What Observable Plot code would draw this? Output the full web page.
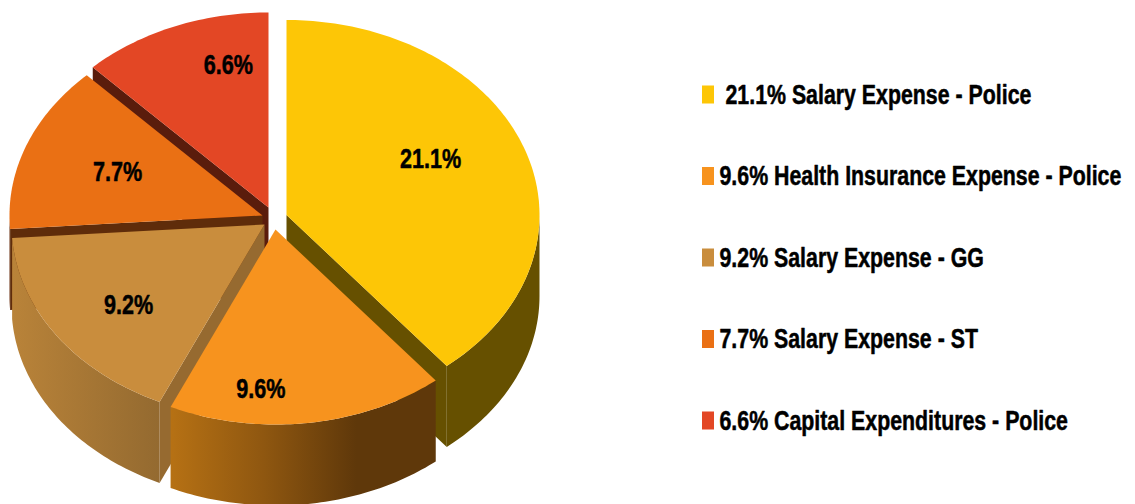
<!DOCTYPE html>
<html><head><meta charset="utf-8">
<style>html,body{margin:0;padding:0;background:#fff}svg{display:block}</style>
<script src="https://cdn.jsdelivr.net/npm/d3@7"></script>
<script src="https://cdn.jsdelivr.net/npm/@observablehq/plot@0.6"></script>
</head><body><div id="chart"></div>
<script>
// Data
const shares = [21.1, 9.6, 9.2, 7.7, 6.6];
const names = ["Salary Expense - Police", "Health Insurance Expense - Police", "Salary Expense - GG", "Salary Expense - ST", "Capital Expenditures - Police"];
const colors = ["#fdc606", "#f7931e", "#c98d3d", "#ea7014", "#e34725"];

// Layout: exploded centres, tilt, and styles (not data)
const rx = 253, ry = 195, depth = 81;
const centers = [[286, 214.5], [275, 229], [264, 224], [262, 215], [268, 207]];
const wallColors = ["#665000", null, "#966a30", "#5f2c0a", "#5a1c0c"];
const sideFills = ["#665000", "url(#sideOrange)", "url(#sideTan)", "#6b2e0e", "#5a1c0c"];
const labelSpot = [[0.45, 0.637], [0.68, 0.82], [0.45, 0.68], [0.5, 0.614], [0.72, 0.745]];
const font = "'Liberation Sans',Arial,sans-serif";
const legendY = [94.5, 176, 257.5, 339, 420.5];
const legendX = [725, 719, 719, 719, 719];

const total = d3.sum(shares);
const cum = Array.from(d3.cumsum(shares));
// Slight perspective foreshortening of the drawn sweep
const angle = d3.scaleLinear().domain([0, ...cum]).range([0, 140.7, 204.5, 266, 316, 360]);
const rad = d => d * Math.PI / 180;
const pt = (c, t, f = 1, dy = 0) => [c[0] + rx * f * Math.sin(rad(t)), c[1] - ry * f * Math.cos(rad(t)) + dy];
const arc = (c, t0, t1, dy = 0) => {
  const n = Math.max(2, Math.ceil(Math.abs(t1 - t0))), out = [];
  for (let i = 0; i <= n; ++i) out.push(pt(c, t0 + (t1 - t0) * i / n, 1, dy));
  return out;
};
const slices = shares.map((v, i) => ({
  i, c: centers[i],
  t0: angle(i ? cum[i - 1] : 0),
  t1: angle(cum[i])
}));
const poly = (points, fill) => Plot.line(points, {x: d => d[0], y: d => d[1], fill, stroke: "none", curve: "linear"});

function sliceMarks(s) {
  const {c, t0, t1, i} = s, out = [];
  const a = Math.max(t0, 90), b = Math.min(t1, 270);
  if (a < b) out.push(poly([...arc(c, a, b), ...arc(c, b, a, depth)], sideFills[i]));
  if (wallColors[i]) {
    const edge = i === 0 ? t1 : t0;
    const e = pt(c, edge);
    out.push(poly([c, e, [e[0], e[1] + depth], [c[0], c[1] + depth]], wallColors[i]));
  }
  out.push(poly([c, ...arc(c, t0, t1)], colors[i]));
  return out;
}

const defs = () => {
  const el = document.createElementNS("http://www.w3.org/2000/svg", "defs");
  el.innerHTML = `
    <linearGradient id="sideOrange" x1="0" x2="1" y1="0" y2="0">
      <stop offset="0" stop-color="#b67114"/><stop offset="0.35" stop-color="#8f5710"/>
      <stop offset="0.7" stop-color="#5f380a"/><stop offset="1" stop-color="#5f380a"/>
    </linearGradient>
    <linearGradient id="sideTan" x1="0" x2="1" y1="0" y2="0">
      <stop offset="0" stop-color="#b98339"/><stop offset="1" stop-color="#946a30"/>
    </linearGradient>`;
  return el;
};

const labels = slices.map(s => {
  const [sp, f] = labelSpot[s.i];
  const [x, y] = pt(s.c, s.t0 + (s.t1 - s.t0) * sp, f);
  return {x, y, text: shares[s.i].toFixed(1) + "%"};
});
const legend = shares.map((v, i) => ({x: legendX[i], y: legendY[i], text: `${v.toFixed(1)}% ${names[i]}`, color: colors[i]}));

// Condensed, tall bold lettering as in the reference
const squeeze = sx => (index, scales, values, dims, ctx, next) => {
  const g = next(index, scales, values, dims, ctx);
  d3.select(g).selectAll("text").each(function() {
    const t = this.getAttribute("transform") || "";
    this.setAttribute("transform", `${t} scale(${sx},1)`);
  });
  return g;
};
const textStyle = {fontFamily: font, fontWeight: "bold", fontSize: 27, fill: "#000", stroke: "#000", strokeWidth: 0.5};

const order = [4, 3, 2, 0, 1];
const chart = Plot.plot({
  width: 1135, height: 504,
  margin: 0,
  x: {domain: [0, 1135], range: [0, 1135], axis: null},
  y: {domain: [0, 504], range: [0, 504], axis: null},
  marks: [
    defs,
    ...order.flatMap(i => sliceMarks(slices[i])),
    Plot.text(labels, {x: "x", y: "y", text: "text", ...textStyle, textAnchor: "middle", render: squeeze(0.8)}),
    Plot.rect(legend, {x1: () => 702, x2: () => 714, y1: d => d.y - 9, y2: d => d.y + 9, fill: "color"}),
    Plot.text(legend, {x: "x", y: "y", text: "text", ...textStyle, textAnchor: "start", render: squeeze(0.79)})
  ]
});
document.getElementById("chart").append(chart);
</script></body></html>
